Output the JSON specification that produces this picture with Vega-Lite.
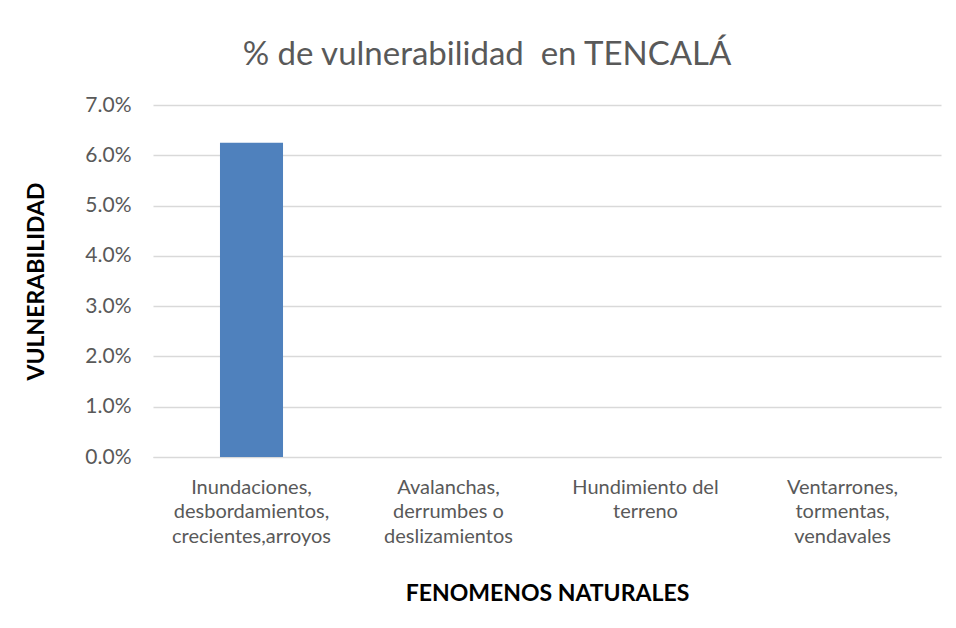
{
  "$schema": "https://vega.github.io/schema/vega-lite/v6.json",
  "width": 788,
  "height": 352,
  "autosize": {"type": "none"},
  "padding": {"left": 153, "top": 105, "right": 15, "bottom": 171},
  "background": "white",
  "title": {
    "text": "% de vulnerabilidad \u00a0en TENCALÁ",
    "font": "Lato",
    "fontSize": 33,
    "fontWeight": "normal",
    "color": "#595959",
    "anchor": "middle",
    "dx": -60,
    "offset": 22
  },
  "data": {
    "values": [
      {"fenomeno": "Inundaciones, desbordamientos, crecientes,arroyos", "vulnerabilidad": 0.0625},
      {"fenomeno": "Avalanchas, derrumbes o deslizamientos", "vulnerabilidad": 0},
      {"fenomeno": "Hundimiento del terreno", "vulnerabilidad": 0},
      {"fenomeno": "Ventarrones, tormentas, vendavales", "vulnerabilidad": 0}
    ]
  },
  "mark": {"type": "bar", "color": "#4f81bd"},
  "encoding": {
    "x": {
      "field": "fenomeno",
      "type": "nominal",
      "sort": null,
      "scale": {"paddingInner": 0.68, "paddingOuter": 0.34},
      "axis": {
        "title": "FENOMENOS NATURALES",
        "titleFont": "Lato",
        "titleFontSize": 23,
        "titleFontWeight": "bold",
        "titleColor": "#000000",
        "titlePadding": 36,
        "labelAngle": 0,
        "labelFont": "Lato",
        "labelFontSize": 20,
        "labelColor": "#595959",
        "labelPadding": 20,
        "labelLineHeight": 24.5,
        "labelLimit": 0,
        "ticks": false,
        "domain": true,
        "domainColor": "#d9d9d9",
        "labelExpr": "datum.label == 'Inundaciones, desbordamientos, crecientes,arroyos' ? ['Inundaciones,', 'desbordamientos,', 'crecientes,arroyos'] : datum.label == 'Avalanchas, derrumbes o deslizamientos' ? ['Avalanchas,', 'derrumbes o', 'deslizamientos'] : datum.label == 'Hundimiento del terreno' ? ['Hundimiento del', 'terreno'] : ['Ventarrones,', 'tormentas,', 'vendavales']"
      }
    },
    "y": {
      "field": "vulnerabilidad",
      "type": "quantitative",
      "scale": {"domain": [0, 0.07], "nice": false},
      "axis": {
        "title": "VULNERABILIDAD",
        "titleFont": "Lato",
        "titleFontSize": 23,
        "titleFontWeight": "bold",
        "titleColor": "#000000",
        "titlePadding": 36,
        "values": [0, 0.01, 0.02, 0.03, 0.04, 0.05, 0.06, 0.07],
        "format": ".1%",
        "labelFont": "Lato",
        "labelFontSize": 21,
        "labelColor": "#595959",
        "labelPadding": 22,
        "ticks": false,
        "domain": false,
        "grid": true,
        "gridColor": "#d9d9d9",
        "gridWidth": 1.3
      }
    }
  },
  "config": {"view": {"stroke": null}}
}
